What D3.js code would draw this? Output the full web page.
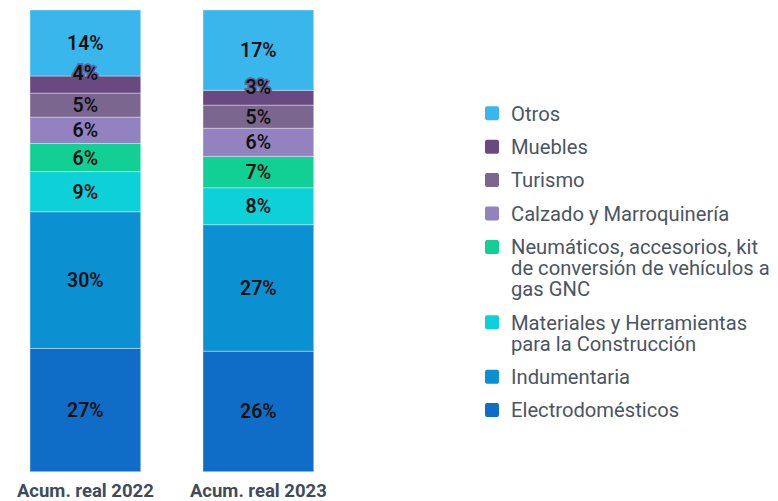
<!DOCTYPE html>
<html>
<head>
<meta charset="utf-8">
<script src="https://cdn.jsdelivr.net/npm/d3@7"></script>
<style>
  body { margin: 0; background: #fff; }
  #chart { width: 778px; height: 501px; }
  text { font-family: Roboto, "Noto Sans", sans-serif; }
</style>
</head>
<body>
<div id="chart"></div>
<script>
const periods = ["Acum. real 2022", "Acum. real 2023"];

// stacked bottom -> top
const sectors = [
  "Electrodomésticos",
  "Indumentaria",
  "Materiales y Herramientas\npara la Construcción",
  "Neumáticos, accesorios, kit\nde conversión de vehículos a\ngas GNC",
  "Calzado y Marroquinería",
  "Turismo",
  "Muebles",
  "Otros"
];

const colors = ["#106dc7", "#0b90d1", "#0ed0d9", "#12cf93", "#9282c0", "#7b6690", "#684a80", "#39b7ec"];

const values2022 = [26.7, 29.6, 8.7, 6.1, 5.7, 5.2, 3.7, 14.3];
const values2023 = [26.1, 27.4, 8.0, 6.8, 6.1, 5.0, 3.2, 17.4];

const width = 778;
const height = 501;

const svg = d3.select("#chart")
  .append("svg")
  .attr("width", width)
  .attr("height", height);

const g = svg.append("g");

const x = d3.scaleBand()
  .domain(periods)
  .range([0, 346])
  .paddingInner(0.36)
  .paddingOuter(0.18);

const y = d3.scaleLinear().domain([0, 100]).range([471.7, 10]);

const table = periods.map((p, i) => {
  const row = { period: p };
  const vals = i === 0 ? values2022 : values2023;
  sectors.forEach((s, j) => { row[s] = vals[j]; });
  return row;
});

const stacked = d3.stack().keys(sectors)(table);

const off = x(periods[0]);
g.attr("transform", `translate(${30 - off},0)`);

stacked.forEach((layer, j) => {
  layer.forEach(d => {
    g.append("rect")
      .attr("x", x(d.data.period))
      .attr("width", x.bandwidth())
      .attr("y", y(d[1]))
      .attr("height", y(d[0]) - y(d[1]))
      .attr("fill", colors[j])
      .attr("stroke", "#ffffff")
      .attr("stroke-opacity", 0.35)
      .attr("stroke-width", 1);
  });
});

stacked.forEach((layer, j) => {
  layer.forEach(d => {
    const h = y(d[0]) - y(d[1]);
    const small = h < 20;
    const cy = small ? y(d[1]) - 3 : (y(d[0]) + y(d[1])) / 2;
    g.append("text")
      .attr("x", x(d.data.period) + x.bandwidth() / 2)
      .attr("y", cy)
      .attr("dy", "0.36em")
      .attr("text-anchor", "middle")
      .attr("font-size", "19.5px")
      .attr("font-weight", "600")
      .attr("fill", "#111")
      .attr("stroke", small ? colors[j] : "none")
      .attr("stroke-width", small ? 3.5 : 0)
      .attr("stroke-opacity", 0.75)
      .attr("paint-order", "stroke")
      .text(Math.round(d.data[sectors[j]]) + "%");
  });
});

g.append("g")
  .attr("transform", "translate(0,471.7)")
  .call(d3.axisBottom(x).tickSize(0).tickPadding(12))
  .call(a => a.select(".domain").remove())
  .selectAll("text")
  .attr("font-family", "Roboto, sans-serif")
  .attr("font-size", "18.5px")
  .attr("font-weight", "700")
  .attr("fill", "#3e4b5b");

// legend, top -> bottom
const legend = svg.append("g").attr("transform", "translate(485,0)");
let ly = 113.3;
sectors.slice().reverse().forEach((s) => {
  const j = sectors.indexOf(s);
  const lines = s.split("\n");
  legend.append("rect")
    .attr("x", 0)
    .attr("y", ly - 7)
    .attr("width", 14)
    .attr("height", 14)
    .attr("rx", 2)
    .attr("fill", colors[j]);
  const t = legend.append("text")
    .attr("x", 26)
    .attr("y", ly)
    .attr("font-size", "20.2px")
    .attr("fill", "#4a5563");
  lines.forEach((line, k) => {
    t.append("tspan")
      .attr("x", 26)
      .attr("dy", k === 0 ? "0.36em" : "21px")
      .text(line);
  });
  ly += 33.4 + 21 * (lines.length - 1);
});
</script>
</body>
</html>
